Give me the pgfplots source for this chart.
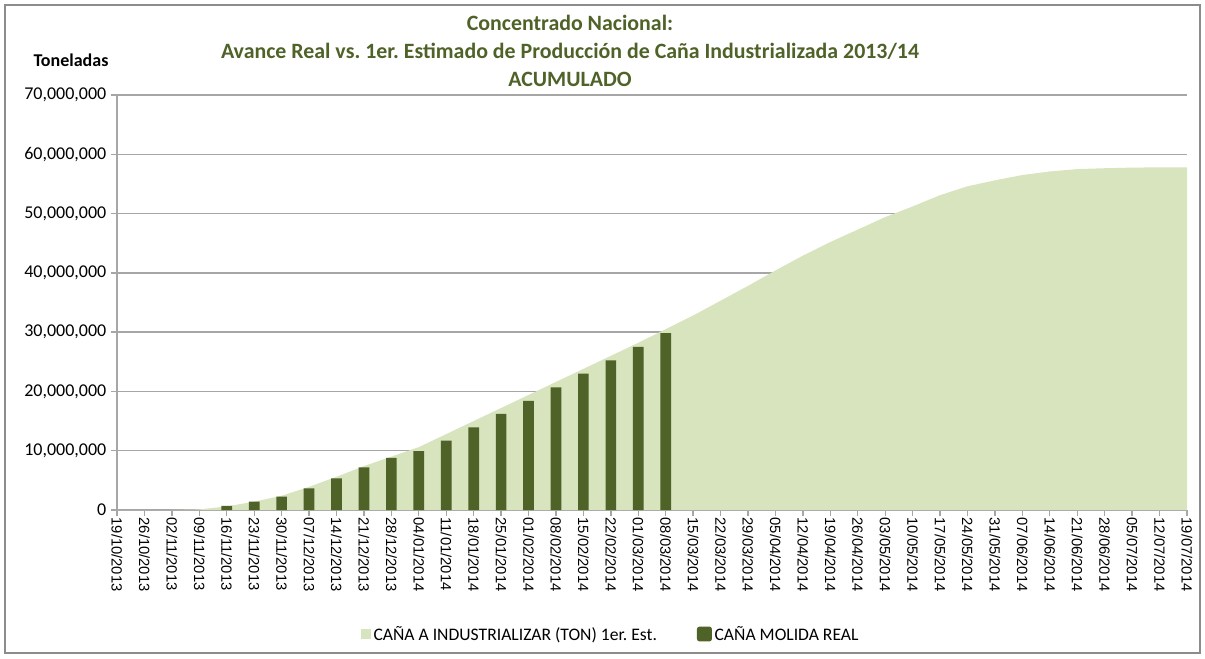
\documentclass[border=0pt]{standalone}
\usepackage{pgfplots}
\pgfplotsset{compat=1.18}
\usepackage{fontspec}
\setmainfont{Carlito}
\newfontfamily\arialfont{Liberation Sans}
\frenchspacing
\definecolor{areagreen}{HTML}{D7E4BD}
\definecolor{bargreen}{HTML}{4F6228}
\definecolor{titlegreen}{HTML}{4F6228}
\definecolor{gridgray}{HTML}{A6A6A6}
\definecolor{bordergray}{HTML}{8C8C8C}
\begin{document}
\begin{tikzpicture}
\path[fill=white] (0,0) rectangle (903.75pt,493.5pt);
\draw[bordergray, line width=0.8pt] (3.75pt,3.75pt) rectangle (900pt,489.75pt);
\node[font=\fontsize{16.4}{21}\selectfont\bfseries, text=titlegreen, align=center] at (427.5pt,455.5pt)
  {Concentrado Nacional:\\Avance Real vs. 1er. Estimado de Producción de Caña Industrializada 2013/14\\ACUMULADO};
\node[font=\fontsize{13.5}{16}\selectfont\bfseries] at (53.25pt,448.5pt) {Toneladas};
\begin{axis}[
  at={(87.75pt,111pt)}, anchor=south west,
  scale only axis, width=802.5pt, height=311.25pt,
  xmin=0, xmax=39, ymin=0, ymax=70000000,
  axis x line*=bottom, axis y line*=left,
  axis line style={gridgray, line width=1pt},
  ymajorgrids, grid style={gridgray, line width=1pt},
  ytick={0,10000000,...,70000000},
  scaled y ticks=false,
  yticklabel style={/pgf/number format/fixed, /pgf/number format/1000 sep={,}, /pgf/number format/assume math mode=true, font=\fontsize{13.5}{16}\selectfont},
  xtick={0,...,39},
  xticklabels={19/10/2013,26/10/2013,02/11/2013,09/11/2013,16/11/2013,23/11/2013,30/11/2013,07/12/2013,14/12/2013,21/12/2013,28/12/2013,04/01/2014,11/01/2014,18/01/2014,25/01/2014,01/02/2014,08/02/2014,15/02/2014,22/02/2014,01/03/2014,08/03/2014,15/03/2014,22/03/2014,29/03/2014,05/04/2014,12/04/2014,19/04/2014,26/04/2014,03/05/2014,10/05/2014,17/05/2014,24/05/2014,31/05/2014,07/06/2014,14/06/2014,21/06/2014,28/06/2014,05/07/2014,12/07/2014,19/07/2014},
  xticklabel style={rotate=-90, anchor=west, font=\arialfont\fontsize{11.1}{13}\selectfont, inner sep=1pt},
  tick align=outside, major tick length=4.5pt,
  tick style={gridgray, line width=1pt},
  legend style={at={(0.4617,-0.2988)}, anchor=center, draw=none, fill=none, legend columns=2,
    font=\fontsize{13.2}{15}\selectfont, /tikz/every even column/.append style={column sep=28pt}},
  legend cell align=left,
]
\addplot[fill=areagreen, draw=none,
  legend image code/.code={\fill[areagreen] (0pt,-3.75pt) rectangle (7.5pt,3.75pt);}]
  coordinates {
(0,0) (1,0) (2,0) (3,100000) (4,600000) (5,1400000) (6,2400000) (7,3900000)
(8,5600000) (9,7400000) (10,9000000) (11,10600000) (12,12800000) (13,15000000)
(14,17200000) (15,19400000) (16,21600000) (17,23800000) (18,26000000) (19,28200000)
(20,30500000) (21,32800000) (22,35300000) (23,37800000) (24,40400000) (25,42900000)
(26,45200000) (27,47300000) (28,49400000) (29,51200000) (30,53100000) (31,54600000)
(32,55600000) (33,56500000) (34,57100000) (35,57500000) (36,57650000) (37,57750000)
(38,57800000) (39,57800000)
  } \closedcycle;
\addlegendentry{CAÑA A INDUSTRIALIZAR (TON) 1er. Est.}
\addplot[ybar, bar width=8pt, fill=bargreen, draw=none,
  legend image code/.code={\fill[bargreen, rounded corners=2pt] (0pt,-5.6pt) rectangle (11.25pt,5.6pt);}]
  coordinates {
(4,700000) (5,1400000) (6,2250000) (7,3650000) (8,5350000) (9,7200000)
(10,8800000) (11,9950000) (12,11700000) (13,13950000) (14,16200000) (15,18400000)
(16,20700000) (17,23000000) (18,25250000) (19,27500000) (20,29850000)
  };
\addlegendentry{CAÑA MOLIDA REAL}
\end{axis}
\end{tikzpicture}
\end{document}
